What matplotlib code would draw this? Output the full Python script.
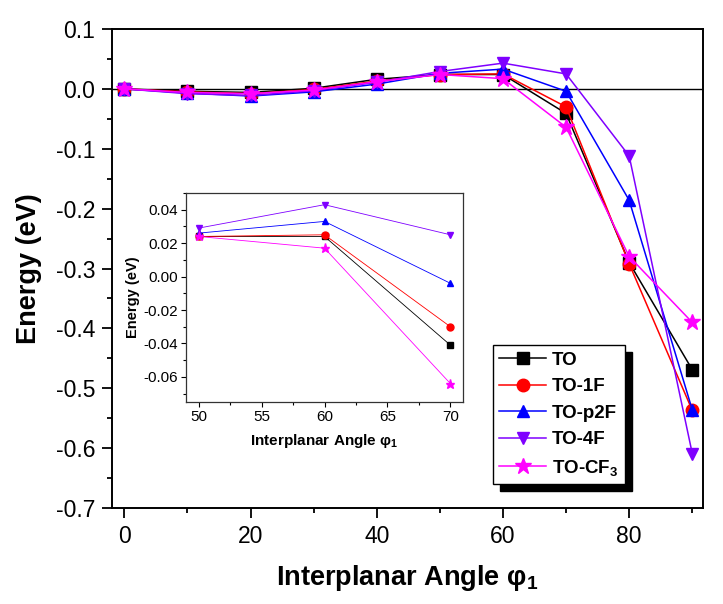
import matplotlib
matplotlib.use("Agg")
import matplotlib.pyplot as plt
from matplotlib.patches import Rectangle
from matplotlib.ticker import MultipleLocator

plt.rcParams['font.family'] = ['Liberation Sans', 'DejaVu Sans']
plt.rcParams['mathtext.fontset'] = 'custom'
plt.rcParams['mathtext.rm'] = 'Liberation Sans'
plt.rcParams['mathtext.bf'] = 'Liberation Sans:bold'
plt.rcParams['mathtext.it'] = 'Liberation Sans:italic'

# ---- data ----
angles = [0, 10, 20, 30, 40, 50, 60, 70, 80, 90]
labels = ['TO', 'TO-1F', 'TO-p2F', 'TO-4F', r'TO-CF$_\mathbf{3}$']
e_TO    = [0, -0.004, -0.006, 0.001, 0.016, 0.024, 0.024, -0.041, -0.290, -0.469]
e_TO1F  = [0, -0.005, -0.008, -0.001, 0.013, 0.024, 0.025, -0.030, -0.292, -0.537]
e_TOp2F = [0, -0.007, -0.012, -0.005, 0.008, 0.026, 0.033, -0.004, -0.186, -0.536]
e_TO4F  = [0, -0.008, -0.011, -0.003, 0.011, 0.029, 0.043, 0.025, -0.112, -0.609]
e_TOCF3 = [0, -0.006, -0.008, -0.002, 0.012, 0.024, 0.017, -0.064, -0.280, -0.390]
series = [e_TO, e_TO1F, e_TOp2F, e_TO4F, e_TOCF3]
colors = ['#000000', '#FF0000', '#0000FF', '#7F00FF', '#FF00FF']
markers = ['s', 'o', '^', 'v', '*']
msizes = [8, 9, 9, 9, 12]
inset_range = slice(5, 8)  # 50, 60, 70

xlabel_main = 'Interplanar Angle \u03c6$_\\mathbf{1}$'

fig = plt.figure(figsize=(7.23, 6.04), dpi=100)
ax = fig.add_axes([111.7/723, 1-508/604, (703-111.7)/723, (508-29)/604])

ax.axhline(0, color='black', lw=1.0, zorder=1)
for y, c, m, ms, lab in zip(series, colors, markers, msizes, labels):
    ax.plot(angles, y, color=c, marker=m, markersize=ms, lw=1.1, label=lab,
            markeredgecolor=c, zorder=3)

ax.set_xlim(-2, 91.7)
ax.set_ylim(-0.7, 0.1)
ax.xaxis.set_major_locator(MultipleLocator(20))
ax.xaxis.set_minor_locator(MultipleLocator(10))
ax.yaxis.set_major_locator(MultipleLocator(0.1))
ax.yaxis.set_minor_locator(MultipleLocator(0.05))
ax.tick_params(which='major', direction='out', length=7, width=1.3, labelsize=16.5, pad=5)
ax.tick_params(which='minor', direction='out', length=3.5, width=1.3)
ax.tick_params(axis='y', which='major', pad=5)
ax.set_yticks([0.1, 0.0, -0.1, -0.2, -0.3, -0.4, -0.5, -0.6, -0.7])
ax.set_yticklabels(['0.1', '0.0', '-0.1', '-0.2', '-0.3', '-0.4', '-0.5', '-0.6', '-0.7'])
for s in ax.spines.values():
    s.set_linewidth(1.4)
ax.set_xlabel(xlabel_main, fontsize=19.5, fontweight='bold', labelpad=11)
ax.set_ylabel('Energy (eV)', fontsize=19.5, fontweight='bold', labelpad=10)

leg = ax.legend(loc='upper left', bbox_to_anchor=(492.7/723, 1-345/604),
                bbox_transform=fig.transFigure, borderaxespad=0, fancybox=False,
                framealpha=1, edgecolor='black', prop={'weight': 'bold', 'size': 13.5},
                handlelength=2.5, handletextpad=0.3, labelspacing=0.5, borderpad=0.35)
leg.get_frame().set_linewidth(1.0)
leg.set_zorder(10)

# ---- inset ----
axin = fig.add_axes([186/723, 1-402/604, (463-186)/723, (402-193)/604])
for y, c, m, lab in zip(series, colors, markers, labels):
    axin.plot(angles[inset_range], y[inset_range], color=c, marker=m,
              markersize=5 if m != '*' else 6.5, lw=0.6, markeredgecolor=c)
axin.set_xlim(49, 71)
axin.set_ylim(-0.075, 0.05)
axin.xaxis.set_major_locator(MultipleLocator(5))
axin.xaxis.set_minor_locator(MultipleLocator(2.5))
axin.yaxis.set_major_locator(MultipleLocator(0.02))
axin.yaxis.set_minor_locator(MultipleLocator(0.01))
axin.set_yticks([0.04, 0.02, 0.0, -0.02, -0.04, -0.06])
axin.set_yticklabels(['0.04', '0.02', '0.00', '-0.02', '-0.04', '-0.06'])
axin.tick_params(which='major', direction='out', length=3.5, width=0.8, labelsize=11, pad=2)
axin.tick_params(which='minor', direction='out', length=2, width=0.8)
for s in axin.spines.values():
    s.set_linewidth(0.9)
    s.set_color('#333333')
axin.set_xlabel(xlabel_main, fontsize=11, fontweight='bold', labelpad=6)
axin.set_ylabel('Energy (eV)', fontsize=10.5, fontweight='bold', labelpad=3)

# legend shadow (solid black, offset)
fig.canvas.draw()
bb = leg.get_window_extent()
shadow = Rectangle((bb.x0 + 7, bb.y0 - 7), bb.width, bb.height, transform=None,
                   facecolor='black', edgecolor='black', zorder=9, clip_on=False)
ax.add_artist(shadow)

fig.savefig('out.png', dpi=100)
